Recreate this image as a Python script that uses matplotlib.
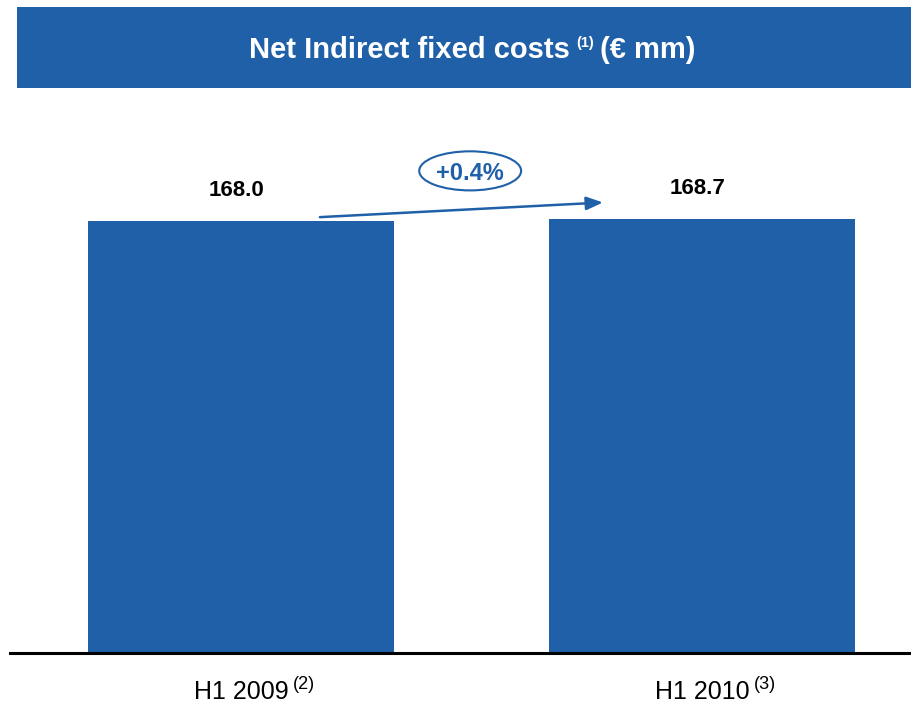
import matplotlib
matplotlib.use("Agg")
import matplotlib.pyplot as plt
from matplotlib.patches import Rectangle, Ellipse

plt.rcParams['font.family'] = ['Liberation Sans', 'DejaVu Sans']

# data
categories = ["H1 2009", "H1 2010"]
notes = ["(2)", "(3)"]
values = [168.0, 168.7]
change_label = "+0.4%"
title_parts = ["Net Indirect fixed costs", "(1)", "(€ mm)"]

blue = "#1F60A8"

W, H = 911, 705
fig = plt.figure(figsize=(W / 100, H / 100), dpi=100)
renderer = fig.canvas.get_renderer()

# title band
fig.patches.append(Rectangle((17 / W, 1 - 88 / H), 1 - 17 / W, 81 / H,
                             transform=fig.transFigure, facecolor=blue,
                             edgecolor="none", zorder=0))

# title in three pieces, small superscript in the middle
t_main = fig.text(0, 1 - 50 / H, title_parts[0], color="white", fontsize=21,
                  fontweight="bold", ha="left", va="center")
t_sup = fig.text(0, 1 - 43 / H, title_parts[1], color="white", fontsize=10.5,
                 fontweight="bold", ha="left", va="center")
t_unit = fig.text(0, 1 - 50 / H, title_parts[2], color="white", fontsize=21,
                  fontweight="bold", ha="left", va="center")
gap = 6
widths = [t.get_window_extent(renderer).width for t in (t_main, t_sup, t_unit)]
x0 = 472 - (sum(widths) + 2 * gap) / 2
for t, w in zip((t_main, t_sup, t_unit), widths):
    t.set_x(x0 / W)
    x0 += w + gap

# bars axes
ax = fig.add_axes([10 / W, 1 - 653 / H, 1 - 10 / W, (653 - 100) / H])
x = list(range(len(values)))
ax.bar(x, values, width=0.662, color=blue, zorder=2)
ax.set_xlim(-0.501, 1.453)
ax.set_ylim(0, 168.0 * 553 / 432)

for s in ["top", "right", "left"]:
    ax.spines[s].set_visible(False)
ax.spines["bottom"].set_linewidth(2.2)
ax.spines["bottom"].set_color("black")
ax.set_yticks([])
ax.set_xticks(x)
ax.set_xticklabels(categories, fontsize=18)
ax.tick_params(axis="x", length=0, pad=19.5)

fig.canvas.draw()
for lab, n in zip(ax.get_xticklabels(), notes):
    ax.annotate(n, xy=(1, 1), xycoords=lab, xytext=(3, 3),
                textcoords="offset points", fontsize=13, ha="left", va="top")

# value labels
for xi, v in zip(x, values):
    ax.text(xi - 0.01, v + 12, f"{v:.1f}", ha="center", va="center",
            fontsize=16, fontweight="bold", color="black")

# growth arrow
ax.annotate("", xy=(0.785, values[1] + 6.5), xytext=(0.171, values[0] + 1.5),
            arrowprops=dict(arrowstyle="-|>,head_length=1.0,head_width=0.4",
                            color=blue, lw=1.8, shrinkA=0, shrinkB=0))
ax.add_patch(Ellipse((0.497, 187.5), 0.221, 15.2, facecolor="white",
                     edgecolor=blue, lw=1.5, zorder=3))
ax.text(0.497, 186.6, change_label, ha="center", va="center", fontsize=17,
        fontweight="bold", color=blue, zorder=4)

fig.savefig("out.png", dpi=100)
